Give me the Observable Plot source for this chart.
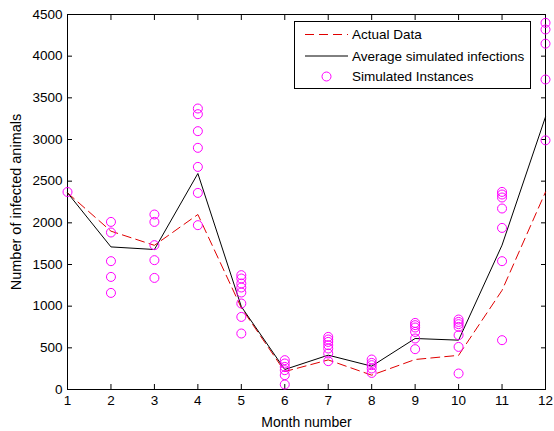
<!DOCTYPE html>
<html><head><meta charset="utf-8">
<script src="https://cdn.jsdelivr.net/npm/d3@7"></script>
<script src="https://cdn.jsdelivr.net/npm/@observablehq/plot@0.6"></script>
<style>
body{margin:0;background:#fff;}
#chart{position:relative;width:554px;height:431px;font-family:"Liberation Sans",Arial,sans-serif;}
#legend{position:absolute;left:294px;top:21px;}
</style></head>
<body><div id="chart"></div>
<script>
const months = [1,2,3,4,5,6,7,8,9,10,11,12];
const actualData = [2360, 1900, 1730, 2100, 980, 215, 355, 172, 360, 410, 1190, 2370];
const averageSim = [2360, 1711, 1680, 2592, 995, 240, 412, 280, 612, 592, 1732, 3272];
const simInstances = [
  [2370],
  [2011, 1884, 1540, 1351, 1159],
  [2100, 2011, 1732, 1552, 1339],
  [3372, 3304, 3100, 2900, 2671, 2359, 1972],
  [1372, 1332, 1272, 1224, 1164, 1032, 871, 672],
  [352, 312, 271, 232, 172, 60],
  [631, 600, 571, 532, 492, 432, 340],
  [360, 319, 292, 252, 199],
  [799, 772, 744, 691, 612, 484],
  [840, 811, 784, 751, 652, 511, 192],
  [2371, 2340, 2304, 2172, 1939, 1540, 592],
  [4400, 4320, 4150, 3720, 2990]
];
const xTicks = months;
const yTicks = [0,500,1000,1500,2000,2500,3000,3500,4000,4500];
const legendLabels = ["Actual Data", "Average simulated infections", "Simulated Instances"];

const RED = "#e00000", MAG = "#ff00ff";
const rows = months.map((m,i) => ({month: m, actual: actualData[i], avg: averageSim[i]}));
const simRows = simInstances.flatMap((vals,i) => vals.map(v => ({month: months[i], value: v})));

const chart = Plot.plot({
  width: 554, height: 431,
  marginLeft: 67, marginRight: 9, marginTop: 14, marginBottom: 42,
  x: {type: "linear", domain: [1, 12]},
  y: {type: "linear", domain: [0, 4500]},
  style: {fontFamily: '"Liberation Sans", Arial, sans-serif', fontSize: "13.5px", color: "#000", background: "#fff"},
  marks: [
    Plot.frame({stroke: "#000"}),
    Plot.axisX({ticks: xTicks, tickSize: -5, tickPadding: 11, tickFormat: d => String(d), label: null}),
    Plot.axisX({ticks: [], label: "Month number", labelAnchor: "center", labelArrow: "none", labelOffset: 37, fontSize: 14}),
    Plot.axisX({anchor: "top", ticks: xTicks, tickSize: -5, tickFormat: () => "", label: null}),
    Plot.axisY({ticks: yTicks, tickSize: -5, tickPadding: 10, tickFormat: d => String(d), label: null}),
    Plot.axisY({ticks: [], label: "Number of infected animals", labelAnchor: "center", labelArrow: "none", labelOffset: 57, fontSize: 14.5}),
    Plot.axisY({anchor: "right", ticks: yTicks, tickSize: -5, tickFormat: () => "", label: null}),
    Plot.line(rows, {x: "month", y: "actual", stroke: RED, strokeWidth: 1, strokeDasharray: "9,5"}),
    Plot.line(rows, {x: "month", y: "avg", stroke: "#000", strokeWidth: 1}),
    Plot.dot(simRows, {x: "month", y: "value", r: 4.5, stroke: MAG, strokeWidth: 1, clip: false})
  ]
});
const root = document.getElementById("chart");
root.appendChild(chart);

// legend overlay
const W = 236, H = 67;
const lg = d3.select(root).append("svg").attr("id","legend").attr("width", W+1).attr("height", H+1)
  .style("font-family",'"Liberation Sans", Arial, sans-serif').style("font-size","13.5px");
lg.append("rect").attr("x",0.5).attr("y",0.5).attr("width",W).attr("height",H).attr("fill","#fff").attr("stroke","#000");
const rowY = [13.5, 35, 55.5];
lg.append("line").attr("x1",11).attr("x2",54).attr("y1",rowY[0]).attr("y2",rowY[0]).attr("stroke",RED).attr("stroke-dasharray","9,5");
lg.append("line").attr("x1",11).attr("x2",54).attr("y1",rowY[1]).attr("y2",rowY[1]).attr("stroke","#000");
lg.append("circle").attr("cx",32.5).attr("cy",rowY[2]).attr("r",4.5).attr("fill","none").attr("stroke",MAG);
legendLabels.forEach((t,i) => lg.append("text").attr("x",58).attr("y",rowY[i]).attr("dy","0.35em").text(t));
</script>
</body></html>
